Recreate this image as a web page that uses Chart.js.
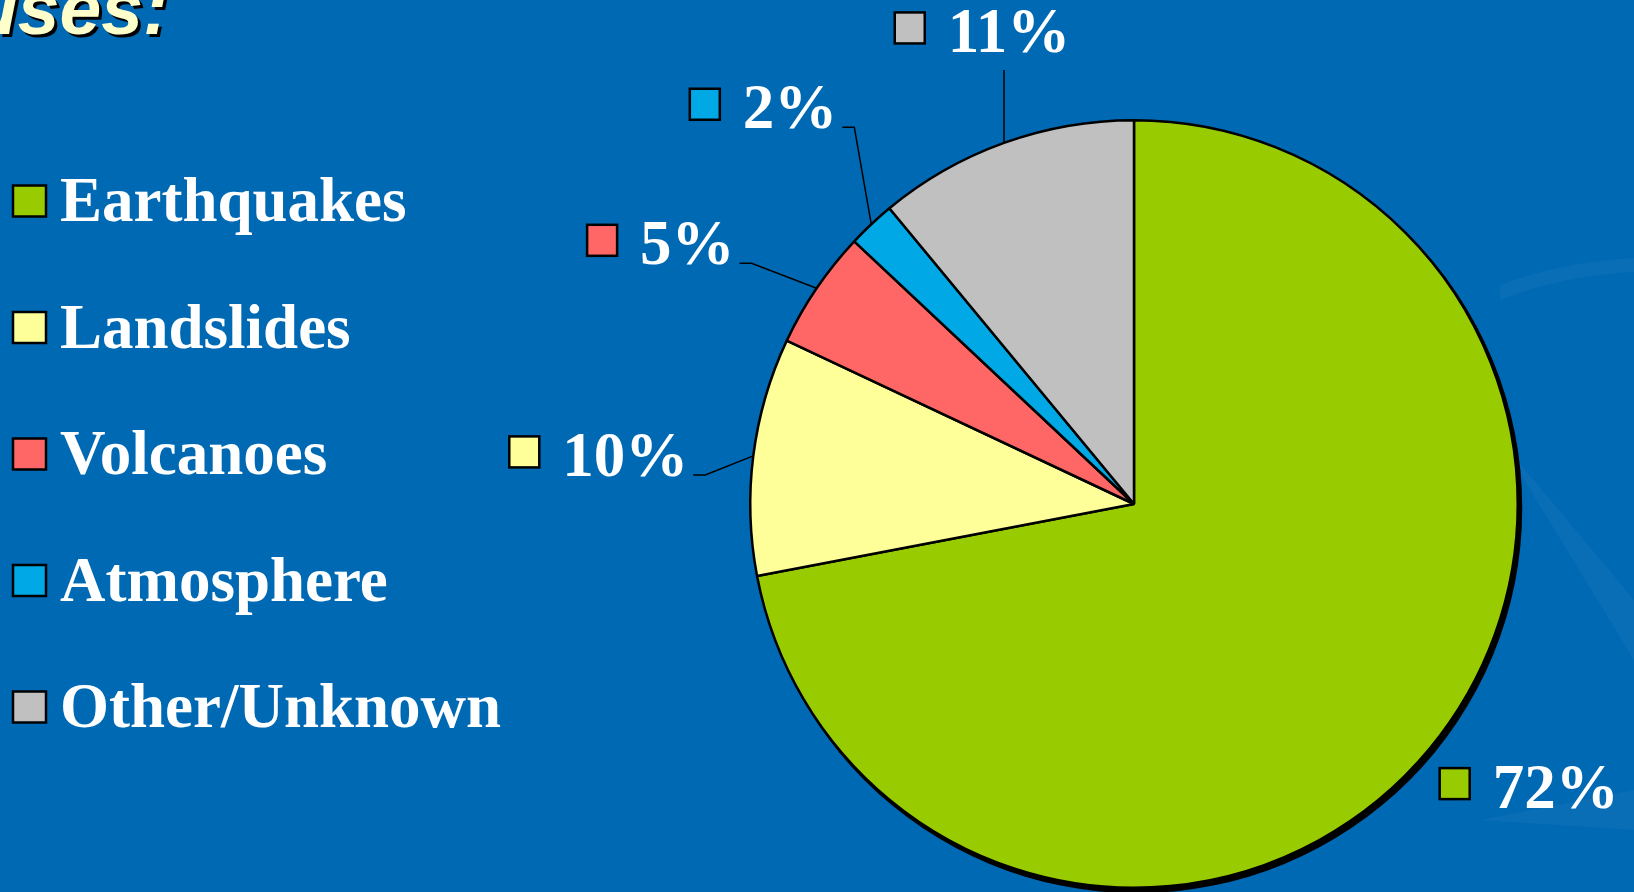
<!DOCTYPE html>
<html>
<head>
<meta charset="utf-8">
<script src="https://cdn.jsdelivr.net/npm/chart.js@4.4.1/dist/chart.umd.min.js"></script>
<style>
  html, body { margin: 0; padding: 0; background: #0069b4; overflow: hidden; }
  #wrap { position: relative; width: 1634px; height: 892px; }
</style>
</head>
<body>
<div id="wrap">
  <canvas id="causes" width="1634" height="892"></canvas>
</div>
<script>
const categories = ['Earthquakes', 'Landslides', 'Volcanoes', 'Atmosphere', 'Other/Unknown'];
const shares = [72, 10, 5, 2, 11];
const sliceColors = ['#99cc00', '#ffff99', '#ff6666', '#00a9e6', '#c0c0c0'];

const serif = 'bold 63px "Liberation Serif", "Times New Roman", serif';

// where each percentage label sits relative to the point on the rim at the slice's mid angle
const labelLayout = [
  { side: 'right', dx: 10, dy: 59 },
  { side: 'left', dx: -48, dy: 19 },
  { side: 'left', dx: -65, dy: -25 },
  { side: 'left', dx: -17, dy: -97 },
  { side: 'top', dx: 0, dy: -73 }
];

function swatch(ctx, x, y, w, h, color) {
  ctx.fillStyle = color;
  ctx.fillRect(x, y, w, h);
  ctx.lineWidth = 2.5;
  ctx.strokeStyle = '#000';
  ctx.strokeRect(x, y, w, h);
}

const backdrop = {
  id: 'backdrop',
  beforeDraw(chart) {
    const ctx = chart.ctx;
    ctx.save();
    ctx.fillStyle = '#0069b4';
    ctx.fillRect(0, 0, chart.width, chart.height);
    // faint swooshes in the template's lower right corner
    ctx.fillStyle = 'rgba(255,255,255,0.035)';
    ctx.beginPath();
    ctx.moveTo(1500, 285);
    ctx.quadraticCurveTo(1560, 262, 1634, 258);
    ctx.lineTo(1634, 272);
    ctx.quadraticCurveTo(1560, 276, 1500, 300);
    ctx.closePath();
    ctx.fill();
    ctx.beginPath();
    ctx.moveTo(1500, 440);
    ctx.lineTo(1634, 600);
    ctx.lineTo(1634, 660);
    ctx.closePath();
    ctx.fill();
    ctx.beginPath();
    ctx.moveTo(1480, 820);
    ctx.lineTo(1634, 790);
    ctx.lineTo(1634, 830);
    ctx.closePath();
    ctx.fill();
    // heading, cut off at the left edge
    ctx.font = 'italic bold 75px "Liberation Sans", Arial, sans-serif';
    ctx.textBaseline = 'alphabetic';
    ctx.fillStyle = '#000';
    ctx.fillText('uses:', -25, 37);
    ctx.fillStyle = '#ffffcc';
    ctx.fillText('uses:', -28, 34);
    ctx.restore();
  }
};

const pieShadow = {
  id: 'pieShadow',
  beforeDatasetsDraw(chart) {
    const arc = chart.getDatasetMeta(0).data[0];
    if (!arc) return;
    const ctx = chart.ctx;
    ctx.save();
    ctx.fillStyle = '#000';
    ctx.beginPath();
    ctx.arc(arc.x + 3, arc.y + 4, arc.outerRadius + 1.5, 0, Math.PI * 2);
    ctx.fill();
    ctx.restore();
  }
};

const sliceLabels = {
  id: 'sliceLabels',
  afterDatasetsDraw(chart) {
    const ctx = chart.ctx;
    const meta = chart.getDatasetMeta(0);
    const values = chart.data.datasets[0].data;
    const colors = chart.data.datasets[0].backgroundColor;
    ctx.save();
    ctx.font = serif;
    ctx.textBaseline = 'alphabetic';
    meta.data.forEach((arc, i) => {
      const mid = (arc.startAngle + arc.endAngle) / 2;
      const ax = arc.x + Math.cos(mid) * arc.outerRadius;
      const ay = arc.y + Math.sin(mid) * arc.outerRadius;
      const lay = labelLayout[i];
      const text = values[i] + '%';
      const tw = ctx.measureText(text).width;
      let textX, baseline;
      ctx.strokeStyle = '#000';
      ctx.lineWidth = 1.5;
      if (lay.side === 'left') {
        const ex = ax + lay.dx, ey = ay + lay.dy;
        ctx.beginPath();
        ctx.moveTo(ax, ay);
        ctx.lineTo(ex, ey);
        ctx.lineTo(ex - 12, ey);
        ctx.stroke();
        textX = ex - 12 - 5 - tw;
        baseline = ey + 1;
      } else if (lay.side === 'top') {
        const ex = ax + lay.dx, ey = ay + lay.dy;
        ctx.beginPath();
        ctx.moveTo(ax, ay);
        ctx.lineTo(ex, ey);
        ctx.stroke();
        textX = ex + 5 - tw / 2;
        baseline = ey - 18;
      } else {
        textX = ax + lay.dx + 30 + 23;
        baseline = ay + lay.dy;
      }
      swatch(ctx, textX - 23 - 30, baseline - 24 - 15.5, 30, 31, colors[i]);
      ctx.fillStyle = '#fff';
      ctx.fillText(text, textX, baseline);
    });
    ctx.restore();
  }
};

const sideLegend = {
  id: 'sideLegend',
  afterDraw(chart) {
    const ctx = chart.ctx;
    const colors = chart.data.datasets[0].backgroundColor;
    ctx.save();
    ctx.font = serif;
    ctx.textBaseline = 'alphabetic';
    chart.data.labels.forEach((label, i) => {
      const cy = 201 + i * 126.5;
      swatch(ctx, 13, cy - 15.5, 33, 31, colors[i]);
      ctx.fillStyle = '#fff';
      ctx.fillText(label, 60, cy + 20);
    });
    ctx.restore();
  }
};

new Chart(document.getElementById('causes'), {
  type: 'pie',
  data: {
    labels: categories,
    datasets: [{
      data: shares,
      backgroundColor: sliceColors,
      borderColor: '#000',
      borderWidth: 2.5
    }]
  },
  options: {
    responsive: false,
    animation: false,
    events: [],
    layout: { padding: { left: 749, right: 115, top: 119, bottom: 3 } },
    plugins: {
      legend: { display: false },
      tooltip: { enabled: false }
    }
  },
  plugins: [backdrop, pieShadow, sliceLabels, sideLegend]
});
</script>
</body>
</html>
